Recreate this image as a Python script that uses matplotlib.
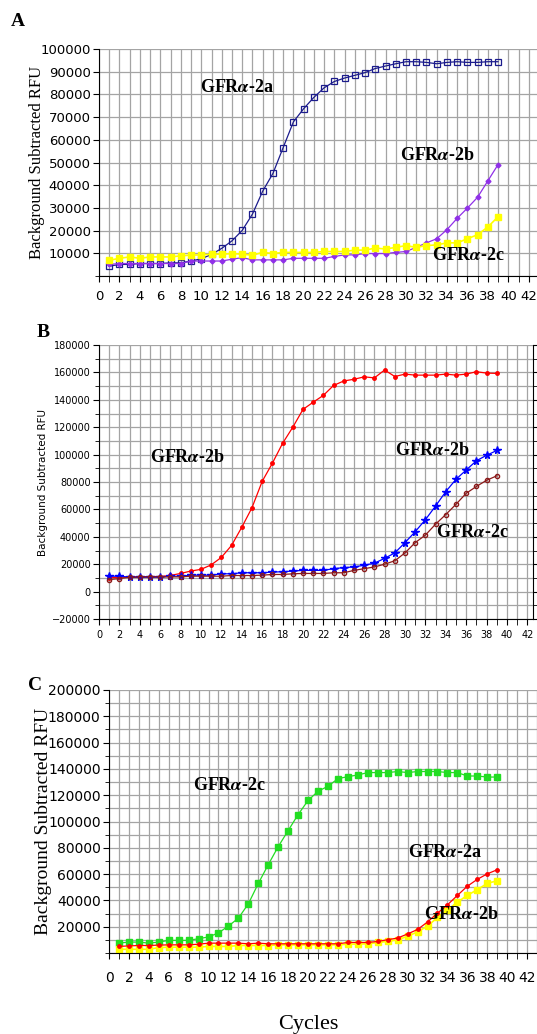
import numpy as np
import matplotlib.pyplot as plt
from matplotlib.ticker import MultipleLocator

plt.rcParams['mathtext.fontset'] = 'stix'

cycles = np.arange(1, 40)

# Panel A
a_2a = [4300, 5100, 5100, 5500, 5500, 5500, 5800, 5800, 6600, 7600,
        9500, 12200, 15500, 20100, 27300, 37400, 45200, 56600, 67900, 73700,
        78700, 82900, 85700, 87200, 88400, 89600, 91400, 92500, 93500, 94400,
        94400, 94100, 93500, 94100, 94400, 94100, 94100, 94400, 94400]
a_2b = [5100, 5500, 5500, 5500, 5500, 5500, 5500, 5500, 6600, 6600,
        6600, 6600, 7400, 8100, 7100, 7100, 7100, 7100, 7800, 7800,
        7800, 7800, 8600, 9300, 9300, 9900, 9900, 9900, 10400, 10800,
        12600, 14600, 16400, 20400, 25400, 29900, 34700, 41900, 49100]
a_2c = [6900, 7800, 8400, 7800, 8400, 8400, 8400, 8900, 9200, 9300,
        9600, 9600, 9900, 9600, 9200, 10400, 9900, 10400, 10400, 10400,
        10400, 10800, 10800, 10800, 11400, 11400, 12300, 11900, 12600, 13400,
        12600, 13400, 13700, 14600, 14600, 16400, 18200, 21600, 26100]

# Panel B
b_2b_early = [10000, 10500, 10500, 10700, 11000, 11000, 11800, 13250, 15000, 16250,
              19500, 25000, 33750, 47000, 61250, 80500, 93750, 108250, 120000, 133000,
              138250, 143250, 150500, 153750, 155000, 156750, 156000, 161750, 157000, 158750,
              158000, 158000, 158000, 158750, 158000, 158750, 160500, 159500, 159250]
b_2b_late = [11250, 11250, 10500, 10500, 10500, 10500, 11250, 11250, 12000, 12000,
             12000, 13000, 13000, 13750, 13750, 13750, 14250, 14500, 15000, 15500,
             15500, 15500, 16750, 17500, 18000, 19250, 20750, 24250, 28250, 35750,
             43750, 52500, 62500, 73000, 82000, 88750, 95500, 99500, 103000]
b_2c = [8750, 9500, 10500, 10750, 10750, 10750, 10750, 10750, 11250, 11250,
        11250, 11250, 11750, 11750, 11750, 12000, 12500, 12500, 13000, 13250,
        13250, 13250, 13750, 13750, 15500, 16750, 18000, 20000, 22500, 28250,
        35750, 41250, 49250, 56250, 63750, 71750, 76750, 81250, 84500]

# Panel C
c_2c = [7500, 8300, 8300, 7500, 8300, 9600, 9600, 9600, 10900, 12200,
        15300, 20500, 26500, 37400, 52900, 67200, 80900, 93100, 105300, 116000,
        123000, 126800, 132600, 134100, 135400, 137200, 137200, 137200, 138000, 137200,
        138000, 138000, 138000, 137200, 137200, 134600, 134600, 133800, 133800]
c_2a = [5000, 5400, 5700, 5700, 6000, 6200, 6200, 6200, 6700, 7500,
        7500, 7500, 7500, 7000, 7500, 7000, 7000, 7000, 7000, 7000,
        7000, 7000, 7000, 8000, 8000, 8000, 8800, 10100, 11400, 14500,
        17900, 23600, 30300, 36600, 43800, 50800, 56000, 60200, 63300]
c_2b = [2800, 2800, 2800, 2800, 4100, 4400, 4400, 4400, 4400, 5000,
        5000, 5000, 5700, 5700, 5700, 5700, 6200, 6200, 6200, 6200,
        6200, 6200, 6200, 6700, 6700, 7000, 8000, 8800, 10100, 12700,
        16100, 20500, 27000, 32700, 38700, 43800, 48200, 52900, 55000]

W, H = 537, 1034
fig = plt.figure(figsize=(W / 100, H / 100), dpi=100)

serif = ['Liberation Serif', 'DejaVu Serif']


def box(left, top, right, bottom):
    return [left / W, 1 - bottom / H, (right - left) / W, (bottom - top) / H]


def setup(ax, xmax, yticks, ygrid, tsize, xpad):
    ax.set_xlim(0, xmax)
    ax.xaxis.set_major_locator(MultipleLocator(2))
    ax.xaxis.set_minor_locator(MultipleLocator(1))
    ax.set_yticks(yticks)
    ax.yaxis.set_minor_locator(MultipleLocator(ygrid))
    ax.grid(which='both', color='#a4a4a4', lw=0.9)
    ax.set_axisbelow(True)
    ax.spines['top'].set_visible(False)
    ax.spines['right'].set_visible(False)
    ax.tick_params(axis='x', which='both', direction='out', length=4, pad=xpad)
    ax.tick_params(axis='y', which='major', direction='out', length=4, pad=2)
    ax.tick_params(axis='y', which='minor', direction='out', length=3)
    for lab in ax.get_xticklabels() + ax.get_yticklabels():
        lab.set_family('DejaVu Sans')
        lab.set_fontsize(tsize)


def label(ax, x, y, txt, size=13):
    ax.text(x, y, txt, family=serif, fontweight='bold', fontsize=size,
            ha='center', va='center')


# ---- A ----
axA = fig.add_axes(box(99, 49, 539, 276))
axA.plot(cycles, a_2a, color='#1c1c8c', lw=0.9, marker='s', ms=4,
         mfc='none', mec='#1c1c8c', mew=0.9)
axA.plot(cycles, a_2b, color='#9030e8', lw=0.9, marker='D', ms=2.5)
axA.plot(cycles, a_2c, color='#ffff00', lw=1.2, marker='s', ms=4.5)
axA.set_ylim(0, 100000)
setup(axA, 43, range(10000, 100001, 10000), 10000, 9.5, 6)
axA.set_ylabel('Background Subtracted RFU', family=serif, fontsize=12)
axA.yaxis.set_label_coords(-0.123, 0.5)
label(axA, 13.5, 82900, r'GFR$\boldsymbol{\alpha}$-2a')
label(axA, 33.1, 53000, r'GFR$\boldsymbol{\alpha}$-2b')
label(axA, 36.1, 9100, r'GFR$\boldsymbol{\alpha}$-2c')
fig.text(18 / W, 1 - 22 / H, 'A', family=serif, fontweight='bold', fontsize=14,
         ha='center', va='center')

# ---- B ----
axB = fig.add_axes(box(99, 345, 532.5, 619))
axB.plot(cycles, b_2b_early, color='#ff0000', lw=0.9, marker='o', ms=2.5)
axB.plot(cycles, b_2b_late, color='#0000ff', lw=0.9, marker='*', ms=5.5)
axB.plot(cycles, b_2c, color='#8b1a1a', lw=0.9, marker='o', ms=3,
         mfc='none', mec='#8b1a1a')
axB.set_ylim(-20000, 180000)
axB.tick_params(axis='y', which='both', right=True, labelright=True)
setup(axB, 42.5, range(-20000, 180001, 20000), 10000, 7, 4)
axB.spines['right'].set_visible(True)
axB.set_ylabel('Background Subtracted RFU', family=['DejaVu Sans'], fontsize=7.5)
axB.yaxis.set_label_coords(-0.118, 0.5)
label(axB, 8.7, 98200, r'GFR$\boldsymbol{\alpha}$-2b')
label(axB, 32.7, 103300, r'GFR$\boldsymbol{\alpha}$-2b')
label(axB, 36.6, 43500, r'GFR$\boldsymbol{\alpha}$-2c')
fig.text(43 / W, 1 - 332 / H, 'B', family=serif, fontweight='bold', fontsize=14,
         ha='center', va='center')

# ---- C ----
axC = fig.add_axes(box(109, 690, 542, 953))
axC.plot(cycles, c_2c, color='#22dd22', lw=0.9, marker='s', ms=4.5)
axC.plot(cycles, c_2b, color='#ffff00', lw=1.2, marker='s', ms=4.5)
axC.plot(cycles, c_2a, color='#ff0000', lw=0.9, marker='o', ms=2.5)
axC.set_ylim(0, 200000)
setup(axC, 43.5, range(20000, 200001, 20000), 10000, 10, 9)
axC.set_ylabel('Background Subtracted RFU', family=serif, fontsize=14)
axC.yaxis.set_label_coords(-0.132, 0.5)
label(axC, 12.1, 127000, r'GFR$\boldsymbol{\alpha}$-2c')
label(axC, 33.8, 76100, r'GFR$\boldsymbol{\alpha}$-2a')
label(axC, 35.4, 29000, r'GFR$\boldsymbol{\alpha}$-2b')
fig.text(35 / W, 1 - 686 / H, 'C', family=serif, fontweight='bold', fontsize=14,
         ha='center', va='center')

fig.text(308 / W, 1 - 1024 / H, 'Cycles', family=serif, fontsize=16,
         ha='center', va='center')

fig.savefig('out.png', dpi=100)
